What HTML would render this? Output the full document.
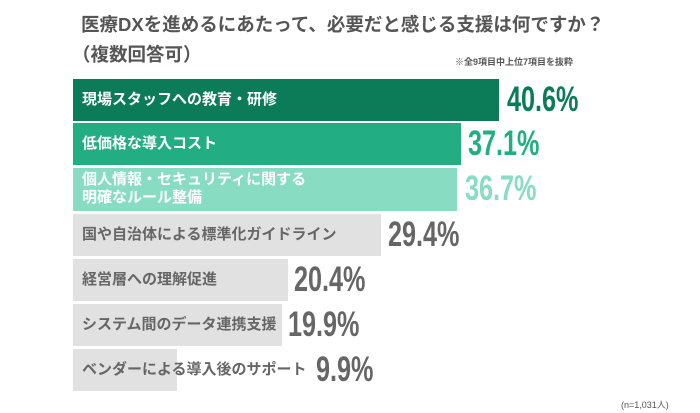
<!DOCTYPE html>
<html><head><meta charset="utf-8"><style>
body{margin:0;width:700px;height:413px;background:#fff;position:relative;overflow:hidden;font-family:"Liberation Sans","Noto Sans CJK JP",sans-serif;}
.t{position:absolute;font-weight:bold;color:#555;font-size:18.5px;white-space:nowrap}
.bar{position:absolute;left:73px;height:42px}
.lb{position:absolute;left:82px;font-weight:bold;font-size:15px;white-space:nowrap;line-height:18px}
.v{position:absolute;font-family:"Liberation Sans",sans-serif;font-weight:bold;font-size:35px;line-height:42px;white-space:nowrap;transform:scaleX(0.72);transform-origin:0 50%}
</style></head><body>
<div class="t" style="left:81px;top:11px">医療DXを進めるにあたって、必要だと感じる支援は何ですか？</div>
<div class="t" style="left:72px;top:41px">（複数回答可）</div>
<div style="position:absolute;left:455px;top:55px;font-size:9px;color:#555;font-weight:bold">※全9項目中上位7項目を抜粋</div>

<div class="bar" style="top:79px;width:426px;background:#0b7b58"></div>
<div class="lb" style="top:91px;color:#fff">現場スタッフへの教育・研修</div>
<div class="v" style="left:507px;top:79px;color:#0b7b58">40.6%</div>

<div class="bar" style="top:123px;width:388px;background:#22ad82"></div>
<div class="lb" style="top:135px;color:#fff">低価格な導入コスト</div>
<div class="v" style="left:468px;top:123px;color:#22ad82">37.1%</div>

<div class="bar" style="top:168px;width:384px;height:43px;background:#88dcc1"></div>
<div class="lb" style="top:171px;color:#fff">個人情報・セキュリティに関する<br>明確なルール整備</div>
<div class="v" style="left:465px;top:168px;color:#88dcc1">36.7%</div>

<div class="bar" style="top:214px;width:308px;background:#e1e1e1"></div>
<div class="lb" style="top:226px;color:#666">国や自治体による標準化ガイドライン</div>
<div class="v" style="left:388px;top:214px;color:#666">29.4%</div>

<div class="bar" style="top:259px;width:215px;background:#e1e1e1"></div>
<div class="lb" style="top:271px;color:#666">経営層への理解促進</div>
<div class="v" style="left:294px;top:259px;color:#666">20.4%</div>

<div class="bar" style="top:304px;width:209px;background:#e1e1e1"></div>
<div class="lb" style="top:316px;color:#666">システム間のデータ連携支援</div>
<div class="v" style="left:288px;top:304px;color:#666">19.9%</div>

<div class="bar" style="top:349px;width:104px;background:#e1e1e1"></div>
<div class="lb" style="top:361px;color:#666">ベンダーによる導入後のサポート</div>
<div class="v" style="left:316px;top:349px;color:#666">9.9%</div>

<div style="position:absolute;left:621px;top:398px;font-size:9px;color:#555">(n=1,031人)</div>
</body></html>
